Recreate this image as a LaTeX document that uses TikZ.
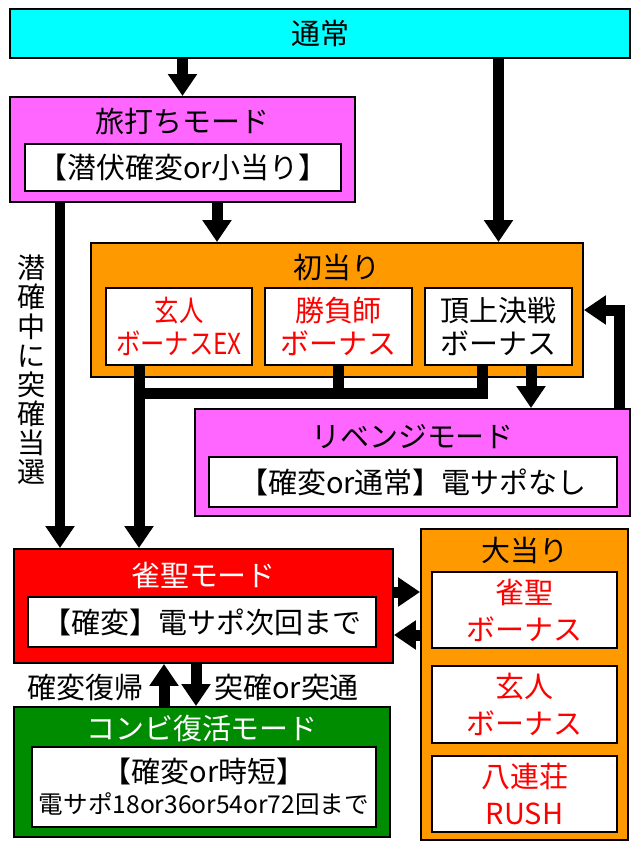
\documentclass[tikz,border=0pt]{standalone}
\usepackage{fontspec}
\setmainfont{Noto Sans CJK JP}
\usepackage{xcolor}
\usepackage{graphicx}
\usetikzlibrary{arrows.meta}

\definecolor{tsujocol}{RGB}{0,255,255}
\definecolor{modecol}{RGB}{255,102,255}
\definecolor{atacol}{RGB}{255,153,0}
\definecolor{jancol}{RGB}{255,0,0}
\definecolor{combicol}{RGB}{0,140,0}

\begin{document}
\begin{tikzpicture}[x=0.02cm,y=-0.02cm,
	font=\fontsize{16.5}{19}\selectfont,
	box/.style={draw,line width=0.04cm,inner sep=0pt},
	inbox/.style={draw,fill=white,line width=0.04cm,inner sep=0pt,align=center},
	bonus/.style={inbox,minimum width=2.93cm,minimum height=1.54cm},
	obonus/.style={inbox,text=red,minimum width=3.7cm,minimum height=1.53cm,font=\fontsize{16.5}{21}\selectfont},
	line/.style={line width=0.22cm},
	arr/.style={line,-{Triangle[width=0.56cm,length=0.44cm]}}]
		\useasboundingbox (0,0) rectangle (640,848);
		%
		\node[box,fill=tsujocol,minimum width=12.4cm,minimum height=0.98cm] (tsujo) at (320,33.5) {通常};
		%
		\node[box,fill=modecol,minimum width=6.9cm,minimum height=2.1cm] (tabi) at (182.5,149.5) {};
		\node (tabit) at (182.5,122) {旅打ちモード};
		\node[inbox,minimum width=6.32cm,minimum height=0.94cm] (tabiin) at (183,167.5) {【潜伏確変or小当り】};
		%
		\node[box,fill=atacol,minimum width=9.84cm,minimum height=2.68cm] (hatsu) at (337,310) {};
		\node (hatsut) at (337,267) {初当り};
		\node[bonus,text=red] (gen) at (179,326.5) {\scalebox{0.84}[1]{玄人}\\\scalebox{0.84}[1]{ボーナスEX}};
		\node[bonus,text=red] (shobu) at (338.5,326.5) {勝負師\\ボーナス};
		\node[bonus] (chojo) at (498.5,326.5) {頂上決戦\\ボーナス};
		%
		\node[box,fill=modecol,minimum width=8.7cm,minimum height=2.14cm] (revenge) at (412.5,462.5) {};
		\node (revt) at (412.5,437) {リベンジモード};
		\node[inbox,minimum width=8.16cm,minimum height=1cm] (revin) at (413,482) {【確変or通常】電サポなし};
		%
		\node[align=center,font=\fontsize{16}{16.6}\selectfont] (senkaku) at (32,370) {潜\\確\\中\\に\\突\\確\\当\\選};
		%
		\node[box,fill=jancol,minimum width=7.58cm,minimum height=2.28cm] (jansei) at (203.5,606) {};
		\node[text=white] (janst) at (203.5,575) {雀聖モード};
		\node[inbox,minimum width=6.96cm,minimum height=1cm] (jansin) at (202,622) {【確変】電サポ次回まで};
		%
		\node[box,fill=combicol,minimum width=7.52cm,minimum height=2.6cm] (combi) at (202,772) {};
		\node[text=white] (combit) at (202,728) {コンビ復活モード};
		\node[inbox,minimum width=6.88cm,minimum height=1.6cm,font=\fontsize{16.5}{17.5}\selectfont] (combin) at (204,787) {【確変or時短】\\{\fontsize{14}{16}\selectfont 電サポ18or36or54or72回まで}};
		%
		\node[box,fill=atacol,minimum width=4.14cm,minimum height=6.22cm] (oatari) at (524.5,684.5) {};
		\node (oatarit) at (524.5,550) {大当り};
		\node[obonus] (ob1) at (524.5,610) {雀聖\\ボーナス};
		\node[obonus] (ob2) at (524.5,704.5) {玄人\\ボーナス};
		\node[obonus] (ob3) at (524.5,794) {八連荘\\RUSH};
		%
		\node[anchor=east] (fukki) at (150,687) {確変復帰};
		\node[anchor=west] (totsu) at (208,687) {突確or突通};
		%
		\coordinate (tabiR) at (217,0);
		\coordinate (tabiL) at (60,0);
		\coordinate (genX) at (139,0);
		\coordinate (chojoX) at (482,0);
		\coordinate (revX) at (531,0);
		\coordinate (backX) at (619,0);
		\coordinate (mrg) at (139,393);
		\coordinate (upX) at (164,0);
		\coordinate (dnX) at (196,0);
		\coordinate (toY) at (0,592);
		\coordinate (frY) at (0,635);
		%
		\draw[arr] (tabi.north |- tsujo.south) -- (tabi.north);
		\draw[arr] (chojo |- tsujo.south) -- (chojo |- hatsu.north);
		\draw[arr] (tabiR |- tabi.south) -- (tabiR |- hatsu.north);
		\draw[arr] (tabiL |- tabi.south) -- (tabiL |- jansei.north);
		\draw[arr] (genX |- gen.south) -- (genX |- jansei.north);
		\draw[line] (shobu.south) -- (shobu.south |- mrg);
		\draw[line] (chojoX |- chojo.south) |- (mrg);
		\draw[arr] (revX |- chojo.south) -- (revX |- revenge.north);
		\draw[arr] (backX |- revenge.north) |- (hatsu.east);
		\draw[arr] (jansei.east |- toY) -- (oatari.west |- toY);
		\draw[arr] (oatari.west |- frY) -- (jansei.east |- frY);
		\draw[arr] (upX |- combi.north) -- (upX |- jansei.south);
		\draw[arr] (dnX |- jansei.south) -- (dnX |- combi.north);
\end{tikzpicture}
\end{document}
